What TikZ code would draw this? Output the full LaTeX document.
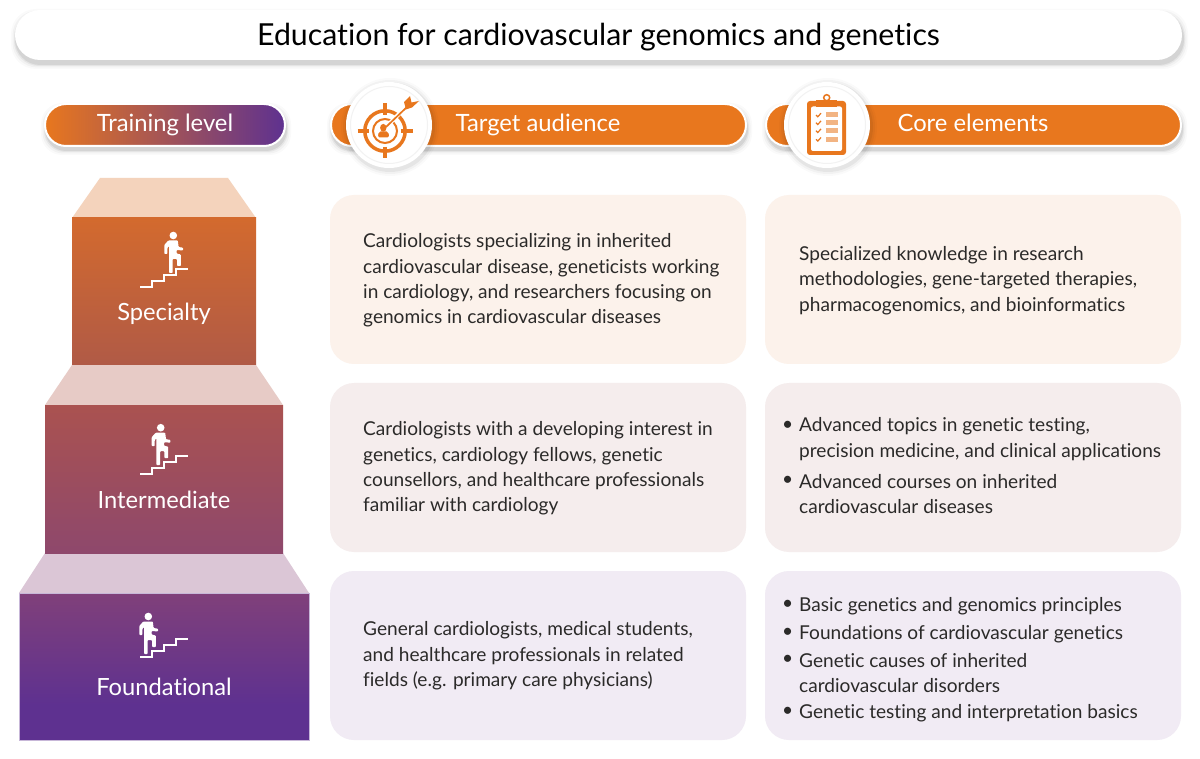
\documentclass[tikz,border=0pt]{standalone}
\usepackage{fontspec}
\setmainfont[Ligatures=NoCommon]{Lato}
\usetikzlibrary{calc}
\definecolor{org}{HTML}{E8771E}
\definecolor{pur}{HTML}{5E3190}
\definecolor{ink}{HTML}{2B2A29}
\definecolor{fndtop}{HTML}{80407A}
\definecolor{spectop}{HTML}{D36A2E}
\definecolor{specbot}{HTML}{B05A46}
\definecolor{intertop}{HTML}{AA5250}
\definecolor{interbot}{HTML}{8E486C}
\definecolor{trapa}{HTML}{F4D3BC}
\definecolor{trapb}{HTML}{E7CBC6}
\definecolor{trapc}{HTML}{DBC6D6}
\definecolor{carda}{HTML}{FCF2EB}
\definecolor{cardb}{HTML}{F5EDED}
\definecolor{cardc}{HTML}{F1EBF4}
\pgfdeclareverticalshading{foundgrad}{100bp}{color(0bp)=(pur); color(25bp)=(pur); color(37bp)=(pur); color(75bp)=(fndtop); color(100bp)=(fndtop)}
\tikzset{
  x=1pt,y=-1pt,
  txt/.style={font=\fontsize{19.1}{25.4}\selectfont,text=ink,align=left,inner sep=0pt,anchor=west},
  lvl/.style={font=\fontsize{23.7}{26}\selectfont,text=white,inner sep=0pt,anchor=base},
  head/.style={font=\fontsize{23.8}{26}\selectfont,text=white,inner sep=0pt,anchor=base},
  cardbox/.style={rounded corners=24pt,fill=#1},
  iconline/.style={draw=org,line width=3.5pt},
  whiteicon/.style={draw=white,line width=1.9pt,line join=miter},
}
\newcommand{\softpill}[5]{% x1 y1 x2 y2 radius
  \foreach \d/\o in {5/0.02,3.5/0.03,2/0.05,1/0.07}{
    \fill[black,opacity=\o,rounded corners=#5] (#1-\d+1,#2-\d+4) rectangle (#3+\d+1,#4+\d+4);
  }
}
\newcommand{\stairicon}[4]{% x y of step origin, person dx dy
  \begin{scope}[shift={(#1,#2)}]
    \draw[whiteicon] (0,0) -- (12,0) -- (12,-6) -- (24,-6) -- (24,-12) -- (36,-12) -- (36,-18) -- (48,-18);
    \begin{scope}[shift={(8.3+#3,#4)}]
      \fill[white] (0,-40.5) circle (3.8);
      \fill[white,rounded corners=0.8pt] (-5,-35.5) -- (4.5,-35.5) -- (5.3,-29) -- (9.7,-28.3) -- (9.7,-25.5) -- (3.3,-26) -- (3.3,-22.5) -- (7.5,-21.5) -- (7.5,-10) -- (3.7,-10) -- (3.7,-17) -- (-0.7,-17) -- (-0.7,-3) -- (-4.3,-3) -- (-4.3,-30) -- (-6,-28) -- (-6,-22) -- (-9,-22) -- (-9,-31) -- cycle;
    \end{scope}
  \end{scope}
}
\begin{document}
\begin{tikzpicture}
\useasboundingbox (0,0) rectangle (1200,759);
\fill[white] (0,0) rectangle (1200,759);

% title
\softpill{15}{10}{1182}{60}{25pt}
\fill[white,rounded corners=25pt] (15,10) rectangle (1182,60);
\node[inner sep=0pt,text=black,anchor=base,font=\fontsize{30.3}{34}\selectfont] (title) at (598.5,46) {Education for cardiovascular genomics and genetics};

% header pills
\softpill{45}{104}{285}{146}{21pt}
\draw[draw=white,line width=2pt,left color=org,right color=pur,rounded corners=21pt] (45,104) rectangle (285,146);
\node[head] (train) at (165,132) {Training level};

\softpill{331}{104}{746}{146}{21pt}
\draw[draw=white,line width=2pt,fill=org,rounded corners=21pt] (331,104) rectangle (746,146);
\node[head] (aud) at (538,132) {Target audience};

\softpill{766}{104}{1181}{146}{21pt}
\draw[draw=white,line width=2pt,fill=org,rounded corners=21pt] (766,104) rectangle (1181,146);
\node[head] (core) at (973,132) {Core elements};

% icon discs
\foreach \cx in {389,827}{
  \foreach \d/\o in {6/0.02,4/0.03,2/0.05}{
    \fill[black,opacity=\o] (\cx+1,127) circle ({43+\d});
  }
  \fill[white] (\cx,125) circle (43);
  \draw[black!5,line width=1pt] (\cx,125) circle (38.5);
}

% target icon
\begin{scope}[shift={(385,131)}]
  \draw[iconline] (0,0) circle (20.2);
  \draw[iconline,line width=2pt] (0,0) circle (12);
  \draw[org,line width=3.8pt] (0,-27.5) -- (0,-16) (0,16) -- (0,27.5) (-27.5,0) -- (-16,0) (16,0) -- (27.5,0);
  \fill[org] (-1.7,-3.2) ellipse (3.2 and 3.9);
  \fill[org,rounded corners=2pt] (-7,6.5) -- (-6.5,0.5) -- (3.5,0.5) -- (4,6.5) -- cycle;
  \draw[white,line width=4pt] (5,-8) -- (21,-24);
  \draw[org,line width=1.7pt] (1,-4) -- (23,-25);
  \fill[org] (21,-21.5) -- (19,-29) -- (25,-35) -- (26.5,-28.5) -- (34,-30) -- (27,-23.5) -- cycle;
\end{scope}

% clipboard icon
\begin{scope}[shift={(807,100)}]
  \fill[org,rounded corners=3pt] (0,1) rectangle (39,55);
  \fill[white,rounded corners=2pt] (4,6.5) rectangle (35,51);
  \fill[org] (9,0) rectangle (30,6.7);
  \draw[org,line width=1.5pt] (19.7,-2.3) circle (3);
  \foreach \yy in {15,22.7,30.7,39.3}{
    \draw[org,line width=1.2pt] (9,\yy) -- (10.8,\yy+1.8) -- (14,\yy-1.8);
    \fill[org!55] (19,\yy-2.5) rectangle (30.5,\yy+2.5);
  }
\end{scope}

% steps
\fill[trapa] (100,178) -- (228,178) -- (256,218) -- (72,218) -- cycle;
\fill[trapb] (72,365) -- (256,365) -- (283,405) -- (45,405) -- cycle;
\fill[trapc] (45,553) -- (283,553) -- (309,593) -- (19,593) -- cycle;
\fill[top color=spectop,bottom color=specbot] (72,218) rectangle (256,365);
\fill[top color=intertop,bottom color=interbot] (45,405) rectangle (283,553);
\draw[draw=pur!35,line width=0.5pt,shading=foundgrad] (19,593) rectangle (309,740);

\stairicon{140}{287}{25}{-11}
\stairicon{140}{474}{12.4}{-5.8}
\stairicon{140}{657}{0}{0}

\node[lvl] (spec) at (164,321) {Specialty};
\node[lvl] (inter) at (164,508.5) {Intermediate};
\node[lvl] (found) at (164,695) {Foundational};

% cards
\fill[cardbox=carda] (330,195) rectangle (746,364);
\fill[cardbox=carda] (765,195) rectangle (1181,364);
\fill[cardbox=cardb] (330,383) rectangle (746,552);
\fill[cardbox=cardb] (765,383) rectangle (1181,552);
\fill[cardbox=cardc] (330,571) rectangle (746,740);
\fill[cardbox=cardc] (765,571) rectangle (1181,740);

% audience text
\node[txt] (a1) at (363,280.5) {Cardiologists specializing in inherited\\cardiovascular disease, geneticists working\\in cardiology, and researchers focusing on\\genomics in cardiovascular diseases};
\node[txt] (a2) at (363,468.5) {Cardiologists with a developing interest in\\genetics, cardiology fellows, genetic\\counsellors, and healthcare professionals\\familiar with cardiology};
\node[txt] (a3) at (363,656) {General cardiologists, medical students,\\and healthcare professionals in related\\fields (e.g. primary care physicians)};

% core text
\node[txt] (c1) at (799,280.5) {Specialized knowledge in research\\methodologies, gene-targeted therapies,\\pharmacogenomics, and bioinformatics};
\node[txt] (b21t) at (799,439) {Advanced topics in genetic testing,\\precision medicine, and clinical applications};
\node[txt] (b22t) at (799,494) {Advanced courses on inherited\\cardiovascular diseases};
\node[txt] (b21) at (782,426) {•};
\node[txt] (b22) at (782,481) {•};
\node[txt] (b31t) at (799,606) {Basic genetics and genomics principles};
\node[txt] (b32t) at (799,634) {Foundations of cardiovascular genetics};
\node[txt] (b33t) at (799,673) {Genetic causes of inherited\\cardiovascular disorders};
\node[txt] (b34t) at (799,713) {Genetic testing and interpretation basics};
\node[txt] (b31) at (782,605) {•};
\node[txt] (b32) at (782,633) {•};
\node[txt] (b33) at (782,660) {•};
\node[txt] (b34) at (782,712) {•};
\end{tikzpicture}
\end{document}
